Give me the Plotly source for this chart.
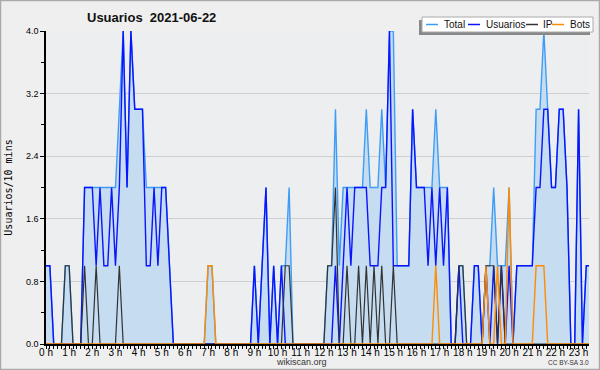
import plotly.graph_objects as go

# 10-minute slots, index i -> time i*10 min (0:00 .. 23:30)
total = [1,1,0,0,0,1, 1,0,0,0,2,2, 2,2,2,2,2,2, 2,3,4,2,4,3,
         3,3,2,2,2,2, 2,2,1,0,0,0, 0,0,0,0,0,0, 1,1,0,0,0,0,
         0,0,0,0,0,0, 1,0,1,2,0,1, 0,1,1,2,0,0, 0,0,0,0,0,0,
         0,1,1,3,1,2, 2,2,2,2,2,3, 2,2,2,3,2,4, 4,1,1,1,1,3,
         2,2,2,2,2,3, 2,2,2,0,0,1, 1,0,0,1,1,0, 1,1,2,1,1,1,
         2,0,1,1,1,1, 1,3,3,4,3,2, 2,3,3,2,0,0, 3,0,1,1]
usuarios = [1,1,0,0,0,0, 0,0,0,0,2,2, 2,1,2,1,1,2, 1,2,4,2,4,3,
            3,3,1,1,2,1, 2,2,1,0,0,0, 0,0,0,0,0,0, 0,0,0,0,0,0,
            0,0,0,0,0,0, 1,0,1,2,0,1, 0,1,0,0,0,0, 0,0,0,0,0,0,
            0,0,0,1,0,1, 2,1,2,2,2,2, 1,1,1,2,2,4, 1,1,1,1,1,3,
            2,2,2,1,2,1, 2,1,2,0,0,1, 0,0,0,1,1,0, 1,0,1,0,1,0,
            1,0,1,1,1,1, 1,2,2,3,3,2, 2,3,3,2,0,0, 3,0,1,1]
ip = [0,0,0,0,0,1, 1,0,0,0,1,0, 0,1,0,0,0,0, 0,1,0,0,0,0,
      0,0,0,0,0,0, 0,0,0,0,0,0, 0,0,0,0,0,0, 0,0,0,0,0,0,
      0,0,0,0,0,0, 0,0,0,0,0,0, 0,0,1,1,0,0, 0,0,0,0,0,0,
      0,1,1,2,0,0, 1,0,0,1,0,1, 0,1,0,1,0,0, 1,0,0,0,0,0,
      0,0,0,0,0,0, 0,0,0,0,0,1, 1,0,0,0,0,0, 1,1,1,0,1,0,
      0,0,0,0,0,0, 0,0,0,0,0,0, 0,0,0,0,0,0, 0,0,0,0]
bots = [0,0,0,0,0,0, 0,0,0,0,0,0, 0,0,0,0,0,0, 0,0,0,0,0,0,
        0,0,0,0,0,0, 0,0,0,0,0,0, 0,0,0,0,0,0, 1,1,0,0,0,0,
        0,0,0,0,0,0, 0,0,0,0,0,0, 0,0,0,0,0,0, 0,0,0,0,0,0,
        0,0,0,0,0,0, 0,0,0,0,0,0, 0,0,0,0,0,0, 0,0,0,0,0,0,
        0,0,0,0,0,1, 0,0,0,0,0,0, 0,0,0,0,0,0, 1,0,0,1,0,0,
        2,0,0,0,0,0, 0,1,1,1,0,0, 0,0,0,0,0,0, 0,0,0,0]
hours = [i / 6 for i in range(len(total))]
hour_labels = [f"{h} h" for h in range(24)]
y_ticks = [0.0, 0.8, 1.6, 2.4, 3.2, 4.0]

C_TOTAL = "#3f9df5"
C_USER = "#0a14ff"
C_IP = "#333333"
C_BOT = "#ff8c00"
TXT = "Liberation Sans, Arial, sans-serif"

fig = go.Figure()
fig.add_trace(go.Scatter(x=hours, y=total, mode="lines", fill="tozeroy",
                         fillcolor="#c6dcf0", line=dict(color=C_TOTAL, width=1.4),
                         name="Total", showlegend=False))
fig.add_trace(go.Scatter(x=hours, y=usuarios, mode="lines",
                         line=dict(color=C_USER, width=1.4), name="Usuarios", showlegend=False))
fig.add_trace(go.Scatter(x=hours, y=ip, mode="lines",
                         line=dict(color=C_IP, width=1.2), name="IP", showlegend=False))
fig.add_trace(go.Scatter(x=hours, y=bots, mode="lines",
                         line=dict(color=C_BOT, width=1.4), name="Bots", showlegend=False))

W, H = 600, 370
L, R, T, B = 46, 11, 31, 26
pw, ph = W - L - R, H - T - B

def px(x):
    return (x - L) / pw

def py(y):
    return (H - B - y) / ph

fig.update_layout(
    width=W, height=H,
    margin=dict(l=L, r=R, t=T, b=B, autoexpand=False),
    paper_bgcolor="#efefef", plot_bgcolor="#eceef0",
    font=dict(family=TXT, size=9, color="#000"),
    showlegend=False,
    xaxis=dict(range=[0, 23.45], tickmode="array", tickvals=list(range(24)),
               ticktext=hour_labels, ticks="outside", ticklen=3, tickcolor="#000",
               showline=True, linecolor="#000", linewidth=1.5, showgrid=False, zeroline=False,
               automargin=False, ticklabelstandoff=-5,
               tickfont=dict(size=10, family=TXT),
               minor=dict(dtick=1/6, tick0=0, ticks="outside", ticklen=3, tickcolor="#000", showgrid=False)),
    yaxis=dict(range=[0, 4], tickmode="array", tickvals=y_ticks,
               ticktext=[f"{v:.1f}" for v in y_ticks], ticks="outside", ticklen=4,
               tickcolor="#000", showline=True, linecolor="#000", linewidth=1.5,
               showgrid=True, gridcolor="#cfcfcf", gridwidth=1, zeroline=False,
               automargin=False,
               tickfont=dict(size=9, family=TXT),
               title=dict(text="Usuarios/10 mins", font=dict(family="DejaVu Sans Mono", size=10), standoff=11),
               minor=dict(dtick=0.4, ticks="outside", ticklen=3, tickcolor="#000", showgrid=False)),
)

# title
fig.add_annotation(xref="paper", yref="paper", x=px(85), y=py(17), xanchor="left", yanchor="middle",
                   text="<b>Usuarios  2021-06-22</b>", showarrow=False,
                   font=dict(family=TXT, size=13, color="#111"))
# footer texts
fig.add_annotation(xref="paper", yref="paper", x=px(301), y=py(362), xanchor="center", yanchor="middle",
                   text="wikiscan.org", showarrow=False, font=dict(family=TXT, size=9, color="#333"))
fig.add_annotation(xref="paper", yref="paper", x=px(591), y=py(362), xanchor="right", yanchor="middle",
                   text="CC BY-SA 3.0", showarrow=False, font=dict(family=TXT, size=6.5, color="#333"))

# outer border
fig.add_shape(type="rect", xref="paper", yref="paper", x0=px(0.5), x1=px(599.5), y0=py(369.5), y1=py(0.5),
              line=dict(color="#aaaaaa", width=1.5), layer="below")

# manual legend
fig.add_shape(type="rect", xref="paper", yref="paper", x0=px(419), x1=px(590), y0=py(35), y1=py(20),
              line=dict(width=0), fillcolor="#888888")
fig.add_shape(type="rect", xref="paper", yref="paper", x0=px(422), x1=px(593), y0=py(32), y1=py(17),
              line=dict(color="#aaaaaa", width=1), fillcolor="#ffffff")
legend_items = [("Total", C_TOTAL, 426, 442), ("Usuarios", C_USER, 468, 484),
                ("IP", C_IP, 526, 541), ("Bots", C_BOT, 552, 568)]
for name, col, lx, tx in legend_items:
    fig.add_shape(type="line", xref="paper", yref="paper", x0=px(lx), x1=px(lx + 12),
                  y0=py(24.5), y1=py(24.5), line=dict(color=col, width=1.5))
    fig.add_annotation(xref="paper", yref="paper", x=px(tx), y=py(24.5), xanchor="left", yanchor="middle",
                       text=name, showarrow=False, font=dict(family=TXT, size=10, color="#111"))

fig.write_html("out.html", config={"displayModeBar": False},
               post_script="document.body.style.margin='0';document.body.style.padding='0';document.body.style.overflow='hidden';")
